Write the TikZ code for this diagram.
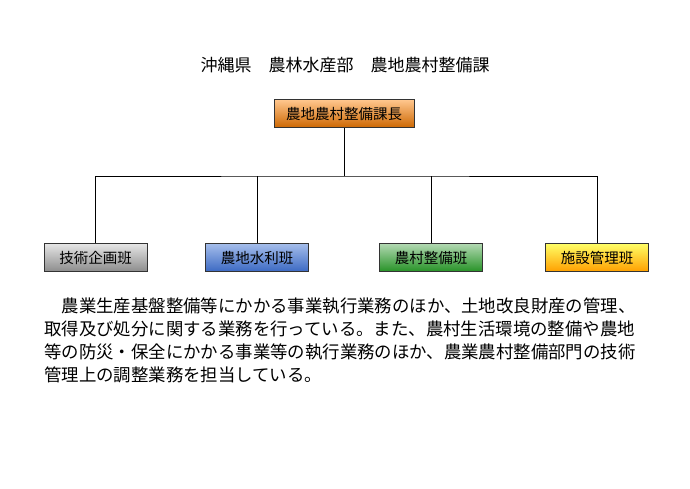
\documentclass[tikz,border=0pt]{standalone}
\usepackage{fontspec}
\setmainfont{Noto Sans CJK JP}
\definecolor{bluetop}{RGB}{165,190,235}
\definecolor{bluebot}{RGB}{60,105,195}
\begin{document}
\begin{tikzpicture}[x=1pt,y=-1pt,
  box/.style={draw=black!80,line width=1pt,minimum height=28pt,inner sep=0pt,font=\fontsize{14.5}{16}\selectfont},
  wire/.style={line width=0.9pt,black}]
\useasboundingbox (0,0) rectangle (690,489);
\node[anchor=center,font=\fontsize{17}{20}\selectfont] (title) at (345,65) {沖縄県　農林水産部　農地農村整備課};
\node[box,minimum width=140pt,top color=orange!45,bottom color=orange!80!black] (chief) at (344,114) {農地農村整備課長};
\node[box,minimum width=103pt,top color=black!10,bottom color=black!45] (a) at (95.5,257.5) {技術企画班};
\node[box,minimum width=103pt,top color=bluetop,bottom color=bluebot] (b) at (257,257.5) {農地水利班};
\node[box,minimum width=103pt,top color=green!50!black!30!white,bottom color=green!50!black!85] (c) at (431,257.5) {農村整備班};
\node[box,minimum width=103pt,top color=yellow!60,bottom color=orange!75!yellow] (d) at (597,257.5) {施設管理班};
\coordinate (hub) at (344,176);
\draw[wire] (chief.south) -- (hub);
\draw[wire] (a.north) |- (hub) -| (d.north);
\draw[wire] (b.north) -- (b.north |- hub);
\draw[wire] (c.north) -- (c.north |- hub);
\begin{scope}[font=\fontsize{17.4}{20}\selectfont]
\node[anchor=west,inner sep=0pt] (p1) at (44,306) {　農業生産基盤整備等にかかる事業執行業務のほか、土地改良財産の管理、};
\node[anchor=west,inner sep=0pt] (p2) at (44,329) {取得及び処分に関する業務を行っている。また、農村生活環境の整備や農地};
\node[anchor=west,inner sep=0pt] (p3) at (44,352) {等の防災・保全にかかる事業等の執行業務のほか、農業農村整備部門の技術};
\node[anchor=west,inner sep=0pt] (p4) at (44,375) {管理上の調整業務を担当している。};
\end{scope}
\end{tikzpicture}
\end{document}
